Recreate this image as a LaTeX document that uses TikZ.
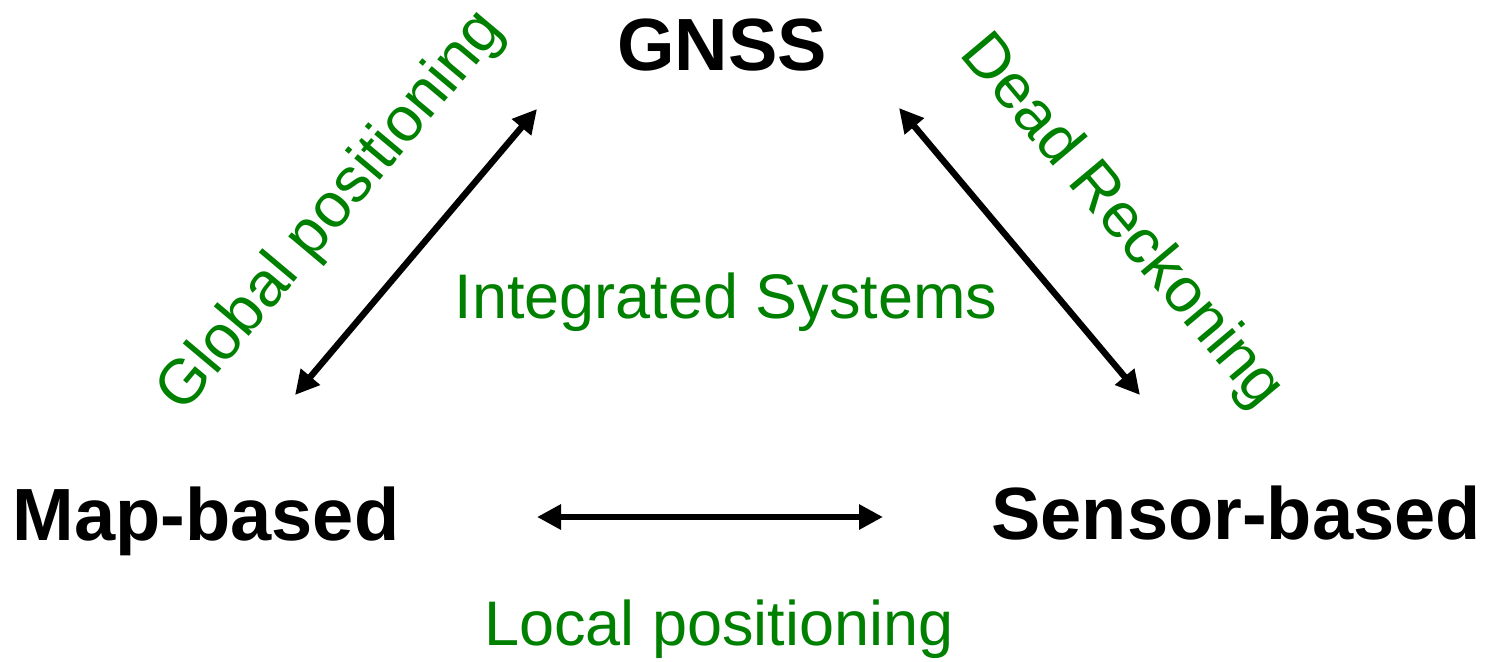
\documentclass[tikz,border=0pt]{standalone}
\usepackage{fontspec}
\setmainfont{Liberation Sans}
\usetikzlibrary{arrows.meta}
\definecolor{lblgreen}{RGB}{0,128,0}
\tikzset{every picture/.style={line width=0.75pt}}
\tikzset{
  sysname/.style={font=\fontsize{37}{39}\selectfont\bfseries, inner sep=0pt, anchor=base},
  grnlabel/.style={font=\fontsize{31.5}{34}\selectfont, text=lblgreen, inner sep=0pt},
  twoway/.style={line width=3.2pt, {Triangle[length=12pt,width=12pt]}-{Triangle[length=12pt,width=12pt]}}
}
\begin{document}
\begin{tikzpicture}[x=0.5pt,y=0.5pt,yscale=-1,xscale=1]
\useasboundingbox (0,0) rectangle (1495,661);

% Text Node
\node [sysname] (gnss) at (722,70) {GNSS};
\node [sysname] (map) at (206,540) {Map-based};
\node [sysname] (sensor) at (1236,539) {Sensor-based};

% Text Node
\node [grnlabel, anchor=base] (integ) at (726,318) {Integrated Systems};
\node [grnlabel, anchor=base] (local) at (719,645) {Local positioning};
\node [grnlabel, rotate=50] (global) at (332,212) {Global positioning};
\node [grnlabel, rotate=-50] (dead) at (1121,222) {Dead Reckoning};

%Straight Lines
\coordinate (gnssL) at (537,109);
\coordinate (gnssR) at (899,108);
\coordinate (mapT) at (295,395);
\coordinate (mapR) at (537,517);
\coordinate (sensorT) at (1140,395);
\coordinate (sensorL) at (883,517);
\draw [twoway] (mapT) -- (gnssL);
\draw [twoway] (gnssR) -- (sensorT);
\draw [twoway] (mapR) -- (sensorL);
\end{tikzpicture}
\end{document}
